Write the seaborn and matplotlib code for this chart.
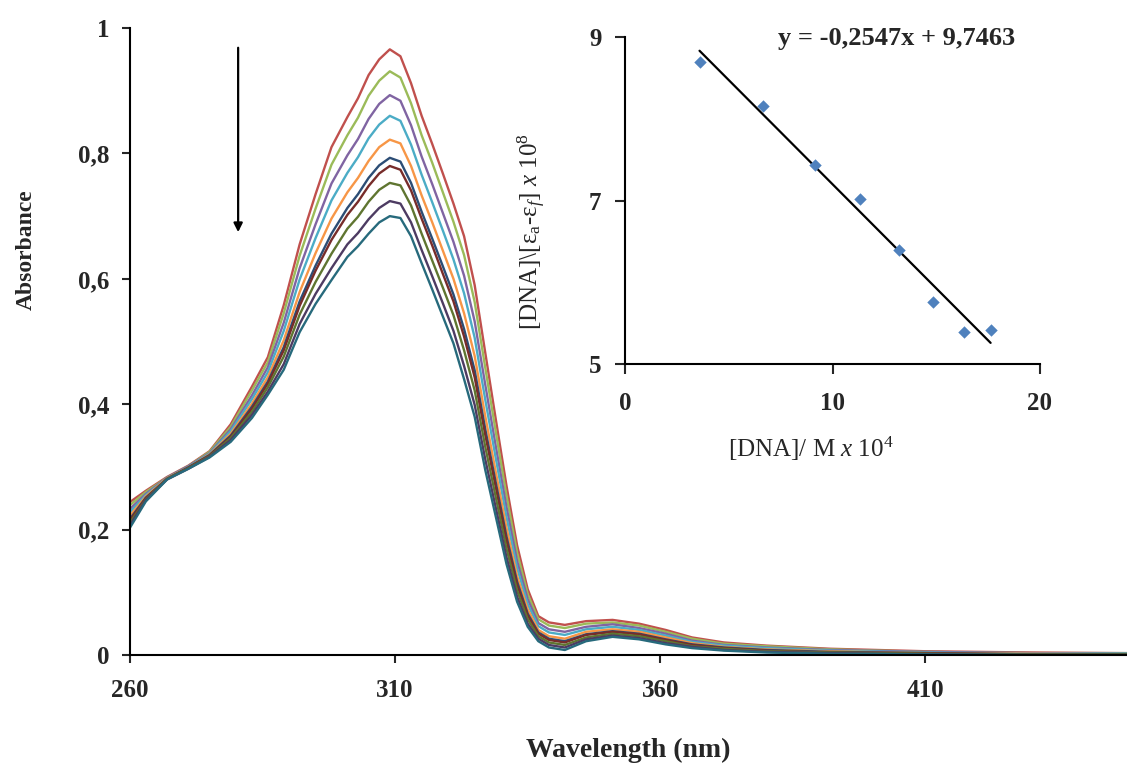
import matplotlib
matplotlib.use("Agg")
import matplotlib.pyplot as plt
import seaborn as sns
import pandas as pd

# wavelength grid (nm)
wavelength = [260, 263, 267, 271, 275, 279, 283, 286, 289, 292, 295, 298, 301, 303, 305,
              307, 309, 311, 313, 315, 317, 319, 321, 323, 325, 327, 329, 331, 333, 335,
              337, 339, 342, 346, 351, 356, 361, 366, 372, 380, 392, 410, 430, 448]

# absorbance of each titration step, top (no DNA) to bottom
abs_1 = [.244, .262, .284, .302, .325, .368, .428,
         .475, .558, .655, .735, .810, .858, .888, .925, .950, .966, .955, .912, .860, .815,
         .768, .720, .668, .590, .482, .375, .270, .175, .105, .062, .052,
         .048, .054, .056, .050, .040, .028, .020, .015, .010, .006, .004, .003]
abs_2 = [.239, .260, .283, .301, .324, .364, .422,
         .467, .545, .637, .712, .782, .829, .857, .892, .916, .931, .921, .880, .829, .785,
         .738, .691, .638, .563, .458, .355, .254, .163, .097, .057, .047,
         .043, .050, .052, .047, .037, .026, .018, .014, .009, .005, .003, .003]
abs_3 = [.233, .257, .283, .301, .322, .360, .414,
         .459, .530, .617, .687, .752, .797, .823, .855, .879, .893, .884, .845, .795, .751,
         .705, .659, .605, .532, .431, .332, .236, .150, .089, .051, .041,
         .037, .045, .049, .043, .034, .023, .016, .012, .008, .005, .003, .002]
abs_4 = [.228, .255, .282, .300, .321, .357, .408,
         .451, .517, .599, .665, .725, .769, .794, .824, .846, .860, .852, .814, .766, .722,
         .677, .631, .577, .506, .407, .313, .220, .139, .081, .046, .036,
         .032, .041, .045, .040, .031, .021, .015, .011, .007, .004, .002, .002]
abs_5 = [.222, .253, .282, .299, .320, .353, .401,
         .443, .502, .579, .641, .696, .738, .761, .788, .810, .822, .816, .780, .733, .690,
         .645, .600, .545, .477, .381, .291, .203, .126, .073, .040, .030,
         .026, .037, .041, .037, .028, .019, .013, .009, .006, .003, .002, .001]
abs_6 = [.217, .251, .281, .299, .319, .350, .396,
         .436, .491, .564, .621, .672, .713, .735, .761, .781, .793, .787, .753, .707, .664,
         .620, .575, .520, .454, .360, .274, .189, .117, .066, .036, .026,
         .022, .033, .038, .034, .025, .017, .012, .008, .005, .003, .001, .001]
abs_7 = [.215, .250, .281, .299, .318, .348, .393,
         .433, .486, .557, .613, .662, .702, .723, .748, .768, .780, .774, .741, .696, .653,
         .608, .564, .508, .443, .351, .267, .183, .112, .063, .034, .024,
         .020, .032, .037, .033, .024, .016, .011, .007, .004, .003, .001, .001]
abs_8 = [.211, .248, .281, .298, .317, .346, .388,
         .427, .476, .543, .595, .640, .680, .699, .723, .742, .753, .749, .717, .672, .629,
         .586, .542, .486, .422, .332, .251, .170, .103, .057, .030, .020,
         .016, .028, .034, .030, .022, .014, .010, .006, .004, .002, .001, .001]
abs_9 = [.207, .247, .280, .297, .316, .343, .383,
         .420, .464, .528, .576, .617, .655, .673, .695, .713, .724, .720, .690, .646, .604,
         .561, .517, .461, .399, .312, .234, .156, .093, .050, .026, .016,
         .012, .025, .031, .027, .019, .013, .008, .005, .003, .001, .000, .000]
abs_10 = [.203, .245, .280, .297, .315, .340, .378,
          .415, .455, .515, .560, .598, .635, .652, .672, .690, .700, .697, .668, .625, .583,
          .540, .497, .440, .380, .295, .220, .145, .085, .045, .022, .012,
          .008, .022, .029, .025, .017, .011, .007, .004, .002, .001, .000, .000]

spectra = [abs_1, abs_2, abs_3, abs_4, abs_5, abs_6, abs_7, abs_8, abs_9, abs_10]
series_names = [f"s{i}" for i in range(1, 11)]
colors = ["#C0504D", "#9BBB59", "#8064A2", "#4BACC6", "#F79646",
          "#2C4D75", "#772C2A", "#5F7530", "#4D3B62", "#276A7C"]

# inset: [DNA]/(ea-ef) vs [DNA]
dna_conc = [3.59, 6.64, 9.17, 11.34, 13.22, 14.86, 16.33, 17.62]
dna_ratio = [8.70, 8.16, 7.44, 7.02, 6.40, 5.76, 5.39, 5.41]
slope = -0.2547
intercept = 9.7463

sns.set_style("ticks")
plt.rcParams["font.family"] = ["Liberation Serif", "DejaVu Serif"]
plt.rcParams["mathtext.fontset"] = "custom"
plt.rcParams["mathtext.rm"] = "Liberation Serif"
plt.rcParams["mathtext.it"] = "Liberation Serif:italic"
plt.rcParams["mathtext.bf"] = "Liberation Serif:bold"

df = pd.concat([pd.DataFrame({"Wavelength": wavelength, "Absorbance": s, "series": n})
                for s, n in zip(spectra, series_names)], ignore_index=True)

fig = plt.figure(figsize=(11.27, 7.66), dpi=100)
ax = fig.add_axes([0.1153, 0.1449, 0.8847, 0.8185])
sns.lineplot(data=df, x="Wavelength", y="Absorbance", hue="series",
             hue_order=series_names, palette=colors, linewidth=1.7,
             legend=False, ax=ax, sort=False)
ax.set_xlim(260, 448)
ax.set_ylim(0, 1)
ax.set_xticks([260, 310, 360, 410])
ax.set_yticks([0, 0.2, 0.4, 0.6, 0.8, 1.0])
ax.set_yticklabels(["0", "0,2", "0,4", "0,6", "0,8", "1"])
ax.tick_params(direction="out", length=6, width=1.5, labelsize=18)
ax.tick_params(axis="x", pad=11)
ax.tick_params(axis="y", pad=9)
for lab in ax.get_xticklabels() + ax.get_yticklabels():
    lab.set_fontweight("bold")
ax.set_xlabel("Wavelength (nm)", fontsize=20, fontweight="bold", labelpad=26)
ax.set_ylabel("Absorbance", fontsize=17, fontweight="bold")
ax.yaxis.set_label_coords(-0.093, 0.646)
sns.despine(ax=ax)
for sp in ["left", "bottom"]:
    ax.spines[sp].set_linewidth(1.5)
    ax.spines[sp].set_color("black")

ax.annotate("", xy=(280.4, 0.670), xytext=(280.4, 0.973),
            arrowprops=dict(arrowstyle="-|>", color="black", lw=1.6, mutation_scale=13))

# inset plot
ins = fig.add_axes([0.5546, 0.5248, 0.3682, 0.4269])
ins.patch.set_alpha(0)
sns.scatterplot(x=dna_conc, y=dna_ratio, marker="D", s=40, color="#4F81BD",
                linewidth=0, ax=ins, zorder=3)
fit_x = [dna_conc[0], dna_conc[-1]]
fit_y = [slope * v + intercept for v in fit_x]
sns.lineplot(x=fit_x, y=fit_y, color="black", linewidth=1.6, ax=ins)
ins.set_xlim(0, 20)
ins.set_ylim(5, 9)
ins.set_xticks([0, 10, 20])
ins.set_yticks([5, 7, 9])
ins.tick_params(direction="out", length=7, width=1.5, labelsize=18)
ins.tick_params(axis="x", pad=13)
ins.tick_params(axis="y", pad=10)
for lab in ins.get_xticklabels() + ins.get_yticklabels():
    lab.set_fontweight("bold")
sns.despine(ax=ins)
for sp in ["left", "bottom"]:
    ins.spines[sp].set_linewidth(1.5)
    ins.spines[sp].set_color("black")
ins.set_xlabel(r"[DNA]/ M $\mathit{x}$ 10$^\mathregular{4}$", fontsize=18)
ins.xaxis.set_label_coords(0.448, -0.217)
ins.set_ylabel(r"[DNA]\[ε$_\mathregular{a}$-ε$_\mathit{f}$] $\mathit{x}$ 10$^\mathregular{8}$",
               fontsize=18)
ins.yaxis.set_label_coords(-0.186, 0.404)
ins.text(0.94, 0.995, "y = -0,2547x + 9,7463", transform=ins.transAxes,
         ha="right", va="center", fontsize=19, fontweight="bold")

fig.savefig("out.png", dpi=100)
